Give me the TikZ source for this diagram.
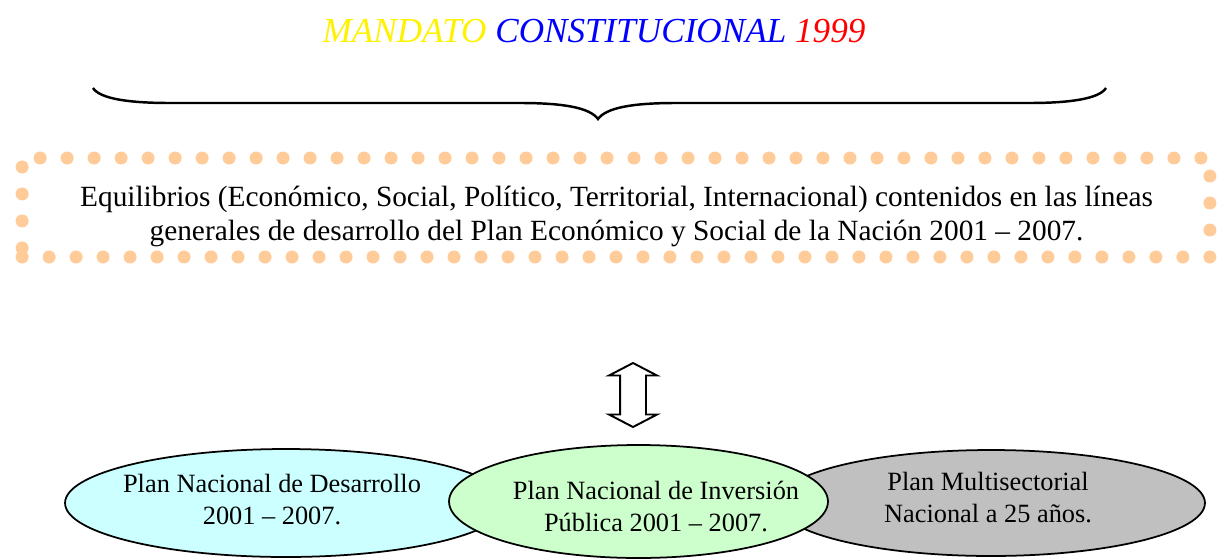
\documentclass[tikz,border=0pt]{standalone}
\usepackage{fontspec}
\setmainfont{Liberation Serif}
\usepackage{xcolor}
\usetikzlibrary{shapes.geometric, shapes.arrows}
\definecolor{dotorange}{RGB}{255,204,153}
\definecolor{plancyan}{RGB}{204,255,255}
\definecolor{plangreen}{RGB}{204,255,204}
\definecolor{plangray}{RGB}{192,192,192}

\begin{document}
\begin{tikzpicture}[x=0.02cm, y=-0.02cm,
		plan/.style={ellipse, draw, line width=1pt, inner sep=0pt},
		plantext/.style={align=center, inner sep=0pt, font=\fontsize{15}{18.2}\selectfont},
		marco/.style={rectangle, draw=dotorange, line width=0.26cm, line cap=round, dash pattern=on 0pt off 0.54cm, minimum width=23.76cm, minimum height=1.98cm}]
			\useasboundingbox (0,0) rectangle (1219,558);
			% Title and brace:
			\node[anchor=base, font=\fontsize{20}{24}\selectfont\itshape] (titulo) at (594,42)
				{\textcolor{yellow}{MANDATO} \textcolor{blue}{CONSTITUCIONAL} \textcolor{red}{1999}};
			\coordinate (llaveA) at (93,88);
			\coordinate (llaveB) at (1106,88);
			\coordinate (llavepico) at (598,119);
			\draw[line width=1.4pt] (llaveA) .. controls (100,99) and (130,103) .. (170,103) -- (520,103)
				.. controls (565,103) and (590,108) .. (llavepico)
				.. controls (606,108) and (631,103) .. (676,103) -- (1029,103)
				.. controls (1069,103) and (1099,99) .. (llaveB);
			% Dotted frame and text:
			\node[marco] (marco) at (616,207.5){};
			\node[align=center, inner sep=0pt, font=\fontsize{16.7}{19.35}\selectfont] (equilibrios) at (616.5,216)
				{Equilibrios (Económico, Social, Político, Territorial, Internacional) contenidos en las líneas\\
				generales de desarrollo del Plan Económico y Social de la Nación 2001 – 2007.};
			% Double arrow:
			\node[double arrow, draw, line width=1.1pt, rotate=90, minimum height=1.28cm, inner xsep=0pt, inner ysep=0.24cm,
				double arrow head extend=0.22cm, double arrow tip angle=125] (flecha) at (633,395){};
			% Plans:
			\node[plan, fill=plancyan, minimum width=8.84cm, minimum height=2.16cm] (pnd) at (286,503){};
			\node[plan, fill=plangray, minimum width=8.56cm, minimum height=2.12cm] (pmn) at (991,503){};
			\node[plan, fill=plangreen, minimum width=7.58cm, minimum height=2.26cm] (pnip) at (638.5,501.5){};
			\node[plantext] (pndtext) at (272,500){Plan Nacional de Desarrollo\\2001 – 2007.};
			\node[plantext] (pniptext) at (656,507){Plan Nacional de Inversión\\Pública 2001 – 2007.};
			\node[plantext] (pmntext) at (988,498){Plan Multisectorial\\Nacional a 25 años.};
		\end{tikzpicture}
\end{document}
